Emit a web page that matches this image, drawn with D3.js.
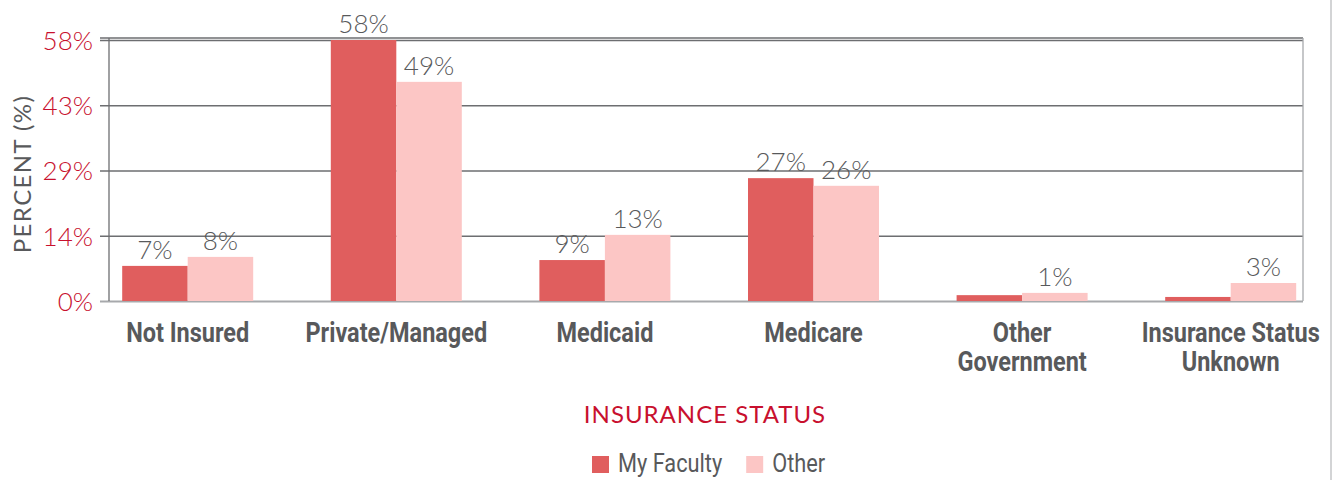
<!DOCTYPE html>
<html>
<head>
<meta charset="utf-8">
<script src="https://cdn.jsdelivr.net/npm/d3@7"></script>
<style>
    body { margin: 0; background: #fff; }
    svg { display: block; }
</style>
</head>
<body>
<svg id="chart" width="1335" height="480"></svg>
<script>
(function () {
    'use strict';

    // values
    const categories = [
        ['Not Insured'],
        ['Private/Managed'],
        ['Medicaid'],
        ['Medicare'],
        ['Other', 'Government'],
        ['Insurance Status', 'Unknown']
    ];
    const seriesNames = ['My Faculty', 'Other'];
    const myFacultyValues = [7.8, 58, 9.1, 27.3, 1.3, 0.9];
    const otherValues = [9.8, 48.7, 14.7, 25.6, 1.8, 4.0];
    const myFacultyLabels = ['7%', '58%', '9%', '27%', null, null];
    const otherLabels = ['8%', '49%', '13%', '26%', '1%', '3%'];
    const yTickValues = [0, 14.5, 29, 43.5, 58];
    const yTickLabels = ['0%', '14%', '29%', '43%', '58%'];

    const COLORS = {
        bars: ['#e05e5e', '#fcc6c5'],
        red: '#c8102e',
        text: '#58595b',
        grid: '#6d6e71',
        base: '#a7a9ac'
    };
    const LAYOUT = { left: 109, right: 1303, top: 38, bottom: 301 };
    const COND = 'Roboto, "DejaVu Sans Condensed", sans-serif';
    const LIGHT = 'Lato, "Open Sans", sans-serif';
    const SQUEEZE = 0.87; // fake a condensed face

    const svg = d3.select('#chart');

    const y = d3.scaleLinear().domain([0, 58]).range([LAYOUT.bottom, 40]);
    const x = d3.scaleBand()
        .domain(d3.range(categories.length))
        .range([83.4, 1335])
        .paddingInner(0.372)
        .paddingOuter(0.186);
    const xs = d3.scaleBand().domain([0, 1]).range([0, x.bandwidth()]);

    // grid lines + tick stubs
    const yAxis = d3.axisLeft(y)
        .tickValues(yTickValues)
        .tickSize(-(LAYOUT.right - LAYOUT.left))
        .tickFormat((d, i) => yTickLabels[i]);
    const gAxis = svg.append('g')
        .attr('transform', `translate(${LAYOUT.left},0)`)
        .call(yAxis);
    gAxis.select('.domain').remove();
    gAxis.selectAll('.tick line')
        .attr('x1', -9)
        .attr('stroke', COLORS.grid)
        .attr('stroke-width', 1.3);
    gAxis.selectAll('.tick text')
        .attr('x', -16)
        .attr('dy', '0.36em')
        .attr('fill', COLORS.red)
        .style('font-family', LIGHT)
        .style('font-size', '26px')
        .style('font-weight', 300);
    gAxis.selectAll('.tick').filter(d => d === 0).select('line')
        .attr('stroke', COLORS.base)
        .attr('stroke-width', 2.2);

    // frame
    svg.append('line')
        .attr('x1', LAYOUT.left).attr('x2', LAYOUT.left)
        .attr('y1', LAYOUT.top).attr('y2', LAYOUT.bottom)
        .attr('stroke', COLORS.grid).attr('stroke-width', 1.3);
    svg.append('line')
        .attr('x1', LAYOUT.left - 9).attr('x2', LAYOUT.right)
        .attr('y1', LAYOUT.top).attr('y2', LAYOUT.top)
        .attr('stroke', COLORS.grid).attr('stroke-width', 1.3);
    svg.append('line')
        .attr('x1', LAYOUT.right).attr('x2', LAYOUT.right)
        .attr('y1', LAYOUT.top).attr('y2', LAYOUT.bottom)
        .attr('stroke', COLORS.base).attr('stroke-width', 1.3);
    svg.append('line')
        .attr('x1', 1331).attr('x2', 1331)
        .attr('y1', 0).attr('y2', 480)
        .attr('stroke', COLORS.base).attr('stroke-width', 1);

    // bars
    const series = [myFacultyValues, otherValues];
    const labels = [myFacultyLabels, otherLabels];
    const barData = [];
    series.forEach((values, s) => {
        values.forEach((v, i) => barData.push({ s: s, i: i, v: v, label: labels[s][i] }));
    });

    const bars = svg.append('g').selectAll('g')
        .data(barData)
        .enter()
        .append('g');
    bars.append('rect')
        .attr('x', d => x(d.i) + xs(d.s))
        .attr('y', d => y(d.v))
        .attr('width', xs.bandwidth())
        .attr('height', d => y(0) - y(d.v))
        .attr('fill', d => COLORS.bars[d.s]);
    bars.filter(d => d.label)
        .append('text')
        .attr('x', d => x(d.i) + xs(d.s) + xs.bandwidth() / 2)
        .attr('y', d => y(d.v) - 7)
        .attr('text-anchor', 'middle')
        .attr('fill', COLORS.text)
        .style('font-family', LIGHT)
        .style('font-size', '26px')
        .style('font-weight', 300)
        .text(d => d.label);

    // category labels
    svg.append('g').selectAll('text')
        .data(categories)
        .enter()
        .append('text')
        .attr('transform', (d, i) => `translate(${x(i) + x.bandwidth() / 2},342) scale(${SQUEEZE},1)`)
        .attr('text-anchor', 'middle')
        .attr('fill', COLORS.text)
        .style('font-family', COND)
        .style('font-size', '27px')
        .style('font-weight', 'bold')
        .each(function (lines) {
            const t = d3.select(this);
            lines.forEach((line, k) => {
                t.append('tspan')
                    .attr('x', 0)
                    .attr('y', k * 29)
                    .text(line);
            });
        });

    // axis titles
    svg.append('text')
        .attr('transform', 'translate(31,174) rotate(-90)')
        .attr('text-anchor', 'middle')
        .attr('fill', COLORS.text)
        .style('font-family', LIGHT)
        .style('font-size', '24px')
        .style('letter-spacing', '1.4px')
        .text('PERCENT (%)');
    svg.append('text')
        .attr('x', 705)
        .attr('y', 423)
        .attr('text-anchor', 'middle')
        .attr('fill', COLORS.red)
        .style('font-family', LIGHT)
        .style('font-size', '24px')
        .style('letter-spacing', '1px')
        .text('INSURANCE STATUS');

    // legend
    const legend = svg.append('g');
    let lx = 592;
    seriesNames.forEach((name, s) => {
        legend.append('rect')
            .attr('x', lx).attr('y', 456)
            .attr('width', 17).attr('height', 17)
            .attr('fill', COLORS.bars[s]);
        const t = legend.append('text')
            .attr('transform', `translate(${lx + 26},472) scale(${SQUEEZE},1)`)
            .attr('fill', COLORS.text)
            .style('font-family', COND)
            .style('font-size', '25px')
            .text(name);
        lx += 26 + t.node().getComputedTextLength() * SQUEEZE + 24;
    });
})();
</script>
</body>
</html>
